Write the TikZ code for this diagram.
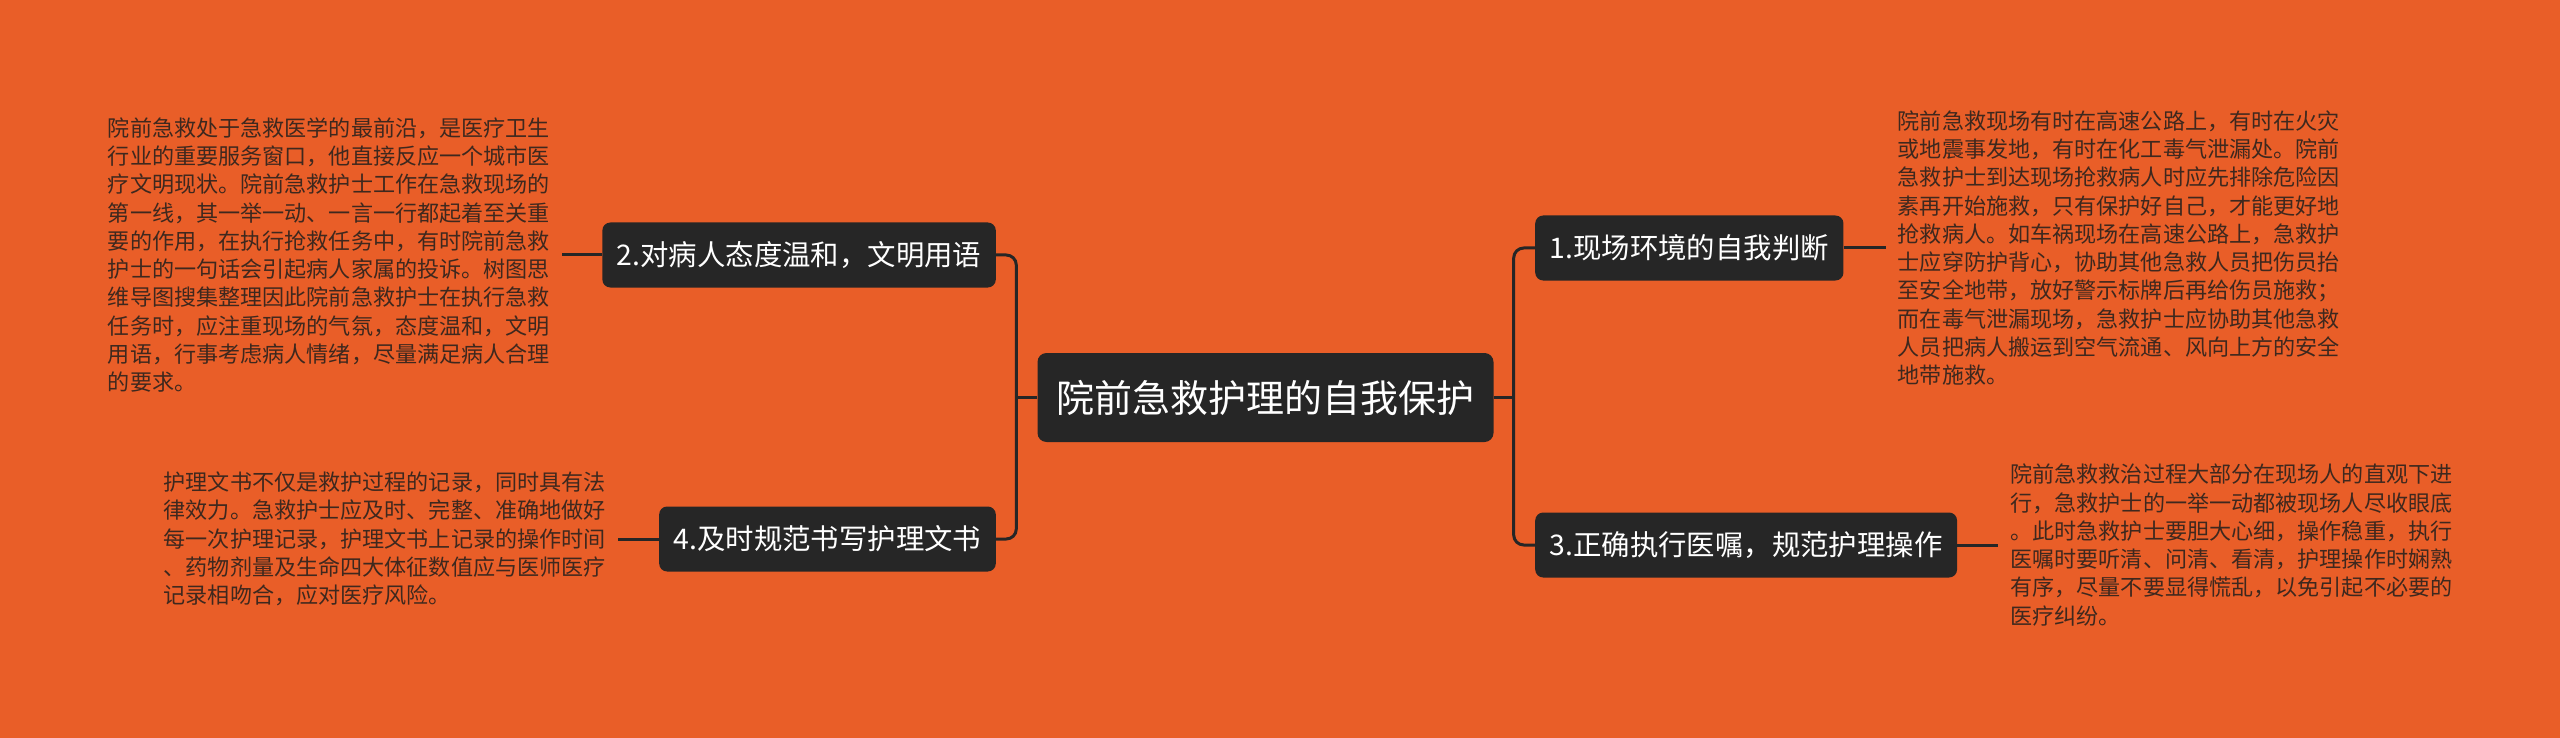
\documentclass[tikz,border=0pt]{standalone}
\usepackage{fontspec}
\newfontfamily\cjk{Noto Sans CJK SC}
\usetikzlibrary{positioning,calc}
\definecolor{mapbg}{RGB}{233,94,40}
\definecolor{boxdark}{RGB}{38,38,38}
\definecolor{leaftext}{RGB}{62,40,30}

\begin{document}
\begin{tikzpicture}[x=1pt,y=-1pt,
    rootbox/.style={fill=boxdark,rounded corners=9pt,text=white,font=\cjk\fontsize{38}{40}\selectfont,inner xsep=19pt,inner ysep=0pt,minimum height=89pt},
    branchbox/.style={fill=boxdark,rounded corners=8pt,text=white,font=\cjk\fontsize{28.4}{30}\selectfont,inner xsep=14.5pt,inner ysep=0pt,minimum height=65pt},
    leaf/.style={text=leaftext,font=\cjk\fontsize{22.1}{28.3}\selectfont,align=left,inner xsep=12pt,inner ysep=0pt},
    link/.style={draw=boxdark,line width=3pt,rounded corners=10pt}]
    % Canvas
    \useasboundingbox (0,0) rectangle (2560,738);
    \fill[mapbg] (0,0) rectangle (2560,738);

    % Root
    \node[rootbox] (root) at (1265.5,397.5) {院前急救护理的自我保护};

    % Branches
    \node[branchbox,anchor=west] (b1) at (1535,248) {1.现场环境的自我判断};
    \node[branchbox,anchor=west] (b3) at (1535,545) {3.正确执行医嘱，规范护理操作};
    \node[branchbox,anchor=east] (b2) at (996,255) {2.对病人态度温和，文明用语};
    \node[branchbox,anchor=east] (b4) at (996,539) {4.及时规范书写护理文书};

    % Leaves
    \node[leaf,right=42pt of b1] (l1) {院前急救现场有时在高速公路上，有时在火灾\\或地震事发地，有时在化工毒气泄漏处。院前\\急救护士到达现场抢救病人时应先排除危险因\\素再开始施救，只有保护好自己，才能更好地\\抢救病人。如车祸现场在高速公路上，急救护\\士应穿防护背心，协助其他急救人员把伤员抬\\至安全地带，放好警示标牌后再给伤员施救；\\而在毒气泄漏现场，急救护士应协助其他急救\\人员把病人搬运到空气流通、风向上方的安全\\地带施救。};
    \node[leaf,right=41pt of b3] (l3) {院前急救救治过程大部分在现场人的直观下进\\行，急救护士的一举一动都被现场人尽收眼底\\。此时急救护士要胆大心细，操作稳重，执行\\医嘱时要听清、问清、看清，护理操作时娴熟\\有序，尽量不要显得慌乱，以免引起不必要的\\医疗纠纷。};
    \node[leaf,left=40pt of b2] (l2) {院前急救处于急救医学的最前沿，是医疗卫生\\行业的重要服务窗口，他直接反应一个城市医\\疗文明现状。院前急救护士工作在急救现场的\\第一线，其一举一动、一言一行都起着至关重\\要的作用，在执行抢救任务中，有时院前急救\\护士的一句话会引起病人家属的投诉。树图思\\维导图搜集整理因此院前急救护士在执行急救\\任务时，应注重现场的气氛，态度温和，文明\\用语，行事考虑病人情绪，尽量满足病人合理\\的要求。};
    \node[leaf,left=41pt of b4] (l4) {护理文书不仅是救护过程的记录，同时具有法\\律效力。急救护士应及时、完整、准确地做好\\每一次护理记录，护理文书上记录的操作时间\\、药物剂量及生命四大体征数值应与医师医疗\\记录相吻合，应对医疗风险。};

    % Connectors
    \draw[link] (root.west) -- ++(-21,0) coordinate (jl);
    \draw[link] (b2.east) -| (jl) |- (b4.east);
    \draw[link] (root.east) -- ++(20,0) coordinate (jr);
    \draw[link] (b1.west) -| (jr) |- (b3.west);
    \draw[link] (b1.east) -- (l1.west);
    \draw[link] (b3.east) -- (l3.west);
    \draw[link] (b2.west) -- (l2.east);
    \draw[link] (b4.west) -- (l4.east);
\end{tikzpicture}
\end{document}
